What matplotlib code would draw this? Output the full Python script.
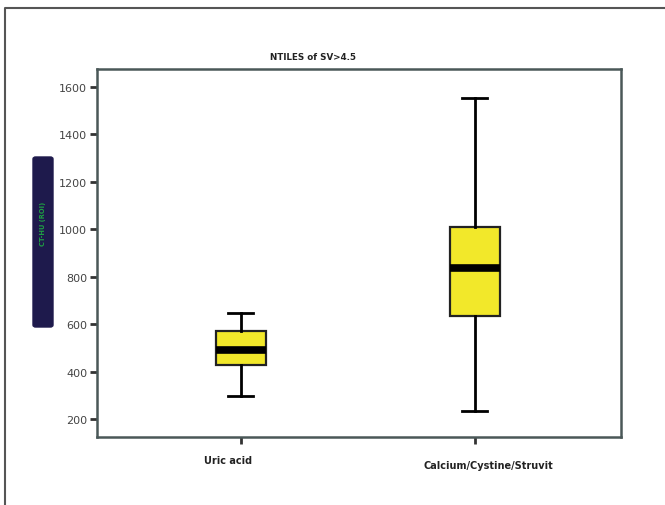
import matplotlib
matplotlib.use("Agg")
import matplotlib.pyplot as plt
from matplotlib.patches import FancyBboxPatch
from matplotlib.lines import Line2D

categories = ["Uric acid", "Calcium/Cystine/Struvit"]
whislo = [297, 233]
q1 = [428, 634]
med = [490, 837]
q3 = [570, 1008]
whishi = [645, 1552]
yticks = [200, 400, 600, 800, 1000, 1200, 1400, 1600]

W, H = 665, 506
fig = plt.figure(figsize=(W / 100, H / 100), dpi=100)
fig.patch.set_facecolor("white")

# outer frame (top and left edges only)
fig.lines.append(Line2D([5 / W, 5 / W, 1.0], [0, 1 - 9 / H, 1 - 9 / H], transform=fig.transFigure,
                        color="#555555", linewidth=1.5))

ax = fig.add_axes([97 / W, 1 - 438 / H, (621 - 97) / W, (438 - 70) / H])

stats = []
for i, c in enumerate(categories):
    stats.append(dict(label=c, whislo=whislo[i], q1=q1[i], med=med[i], q3=q3[i],
                      whishi=whishi[i], fliers=[]))

ax.bxp(stats, positions=[1, 2], widths=0.212, capwidths=0.107,
       patch_artist=True, showfliers=False,
       boxprops=dict(facecolor="#f2e82a", edgecolor="#222222", linewidth=1.6),
       medianprops=dict(color="black", linewidth=5.5, solid_capstyle="butt"),
       whiskerprops=dict(color="black", linewidth=2.0),
       capprops=dict(color="black", linewidth=2.0))

ax.set_xlim(0.385, 2.624)
ax.set_ylim(124, 1676)
ax.set_yticks(yticks)
ax.set_yticklabels([str(v) for v in yticks], fontsize=8, color="#444444")
ax.set_xticks([1, 2])
ax.set_xticklabels([])
for spine in ax.spines.values():
    spine.set_color("#4a5858")
    spine.set_linewidth(1.8)
ax.tick_params(axis="both", direction="out", length=5, width=2, color="#333333", pad=2)

# x tick labels
fig.text(228 / W, 1 - 461 / H, categories[0], ha="center", va="center",
         fontsize=7, fontweight="bold", color="#222222")
fig.text(488 / W, 1 - 466 / H, categories[1], ha="center", va="center",
         fontsize=7, fontweight="bold", color="#222222")

# title
fig.text(313 / W, 1 - 57 / H, "NTILES of SV>4.5", ha="center", va="center",
         fontsize=6.3, fontweight="bold", color="#222222")

# y label box
fig.patches.append(FancyBboxPatch((33 / W, 1 - 328 / H), 20 / W, 170 / H,
                                  boxstyle="round,pad=0,rounding_size=0.004",
                                  transform=fig.transFigure,
                                  facecolor="#1e1a4c", edgecolor="#1e1a4c"))
fig.text(43 / W, 1 - 224 / H, "CT-HU (ROI)", rotation=90, ha="center", va="center",
         fontsize=4.8, fontweight="bold", color="#1fa043")

fig.savefig("out.png", dpi=100)
